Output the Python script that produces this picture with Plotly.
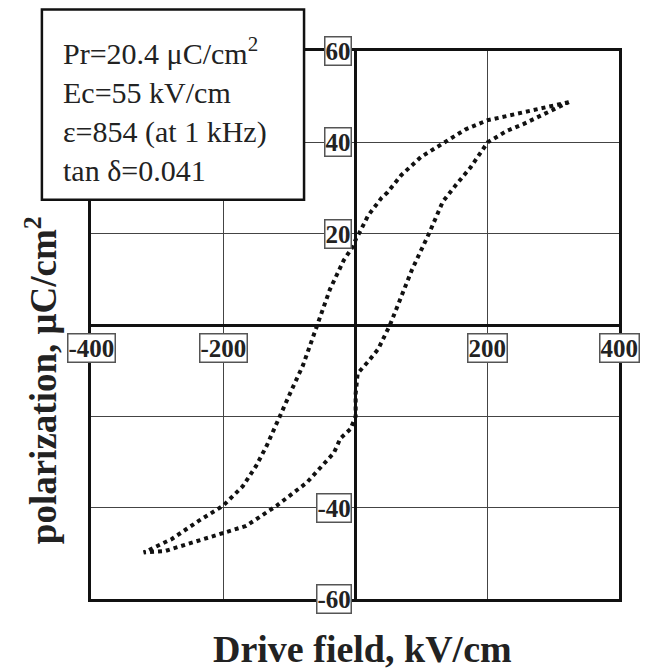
import plotly.graph_objects as go

# ---- data ----
upper_x = [324, 300, 255, 200, 167, 135, 100, 70, 49, 40, 20, 6, 2, -4, -17, -38, -56,
           -79, -96, -114, -134, -150, -170, -200, -237, -278, -320]
upper_y = [48.8, 48.0, 46.7, 44.8, 42.8, 40.0, 36.8, 32.8, 29.0, 27.8, 24.0, 20.0, 19.0,
           17.0, 14.2, 7.8, 0.3, -8.9, -14.2, -20.0, -26.5, -30.9, -35.3, -39.6, -42.9,
           -46.9, -49.8]
lower_x = [-320, -288, -247, -200, -165, -119, -73, -32, -22, -7, -1, 1, 1, 4, 20, 35, 53,
           70, 86, 112, 133, 152, 175, 201, 230, 255, 290, 324]
lower_y = [-49.8, -49.5, -47.6, -45.5, -44.0, -39.6, -34.5, -28.0, -24.8, -22.8, -20.7,
           -20.0, -15.0, -10.6, -8.0, -5.3, 0.0, 6.0, 12.0, 20.0, 27.0, 30.5, 34.5, 40.0,
           42.5, 44.0, 46.5, 48.8]

x_grid = [-400, -200, 0, 200, 400]
y_grid = [-60, -40, -20, 0, 20, 40, 60]
x_label_vals = [-400, -200, 200, 400]
x_label_text = ["-400", "-200", "200", "400"]
y_label_vals = [60, 40, 20, -40, -60]
y_label_text = ["60", "40", "20", "-40", "-60"]

info_lines = ["Pr=20.4 \u03bcC/cm<sup>2</sup>", "Ec=55 kV/cm",
              "\u03b5=854 (at 1 kHz)", "tan \u03b4=0.041"]
x_title = "Drive field, kV/cm"
y_title = "polarization, \u03bcC/cm<sup>2</sup>"

SERIF = "Liberation Serif, Times New Roman, serif"

fig = go.Figure()
fig.add_trace(go.Scatter(x=upper_x + lower_x[1:], y=upper_y + lower_y[1:], mode="lines",
                         line=dict(color="#111111", width=4, dash="4px,4px"),
                         hoverinfo="skip", showlegend=False))

axis_common = dict(showgrid=True, gridcolor="#444444", gridwidth=1,
                   zeroline=True, zerolinecolor="#111111", zerolinewidth=2.5,
                   showline=True, linecolor="#111111", linewidth=2.5, mirror=True,
                   showticklabels=False, ticks="", fixedrange=True)
fig.update_xaxes(range=[-400, 400], tickvals=x_grid, **axis_common)
fig.update_yaxes(range=[-60, 60], tickvals=y_grid, **axis_common)

annotations = []
for v, t in zip(x_label_vals, x_label_text):
    annotations.append(dict(x=v, y=0, xref="x", yref="y", text="<b>%s</b>" % t,
                            showarrow=False, xanchor="center", yanchor="top", yshift=-8,
                            font=dict(family=SERIF, size=25, color="#222222"),
                            bgcolor="white", bordercolor="#555555", borderwidth=1.5,
                            borderpad=0))
for v, t in zip(y_label_vals, y_label_text):
    annotations.append(dict(x=0, y=v, xref="x", yref="y", text="<b>%s</b>" % t,
                            showarrow=False, xanchor="right", yanchor="middle", xshift=-3,
                            font=dict(family=SERIF, size=25, color="#222222"),
                            bgcolor="white", bordercolor="#555555", borderwidth=1.5,
                            borderpad=0))

# info text
annotations.append(dict(x=-0.057, y=0.893, xref="paper", yref="paper",
                        text="<br>".join(info_lines), showarrow=False, align="left",
                        xanchor="left", yanchor="middle",
                        font=dict(family=SERIF, size=30, color="#222222")))
# axis titles
annotations.append(dict(x=0.515, y=-0.092, xref="paper", yref="paper",
                        text="<b>%s</b>" % x_title, showarrow=False,
                        xanchor="center", yanchor="middle",
                        font=dict(family=SERIF, size=38, color="#222222")))
annotations.append(dict(x=-0.094, y=0.40, xref="paper", yref="paper",
                        text="<b>%s</b>" % y_title, showarrow=False, textangle=-90,
                        xanchor="center", yanchor="middle",
                        font=dict(family=SERIF, size=37, color="#222222")))

shapes = [dict(type="rect", xref="paper", yref="paper", x0=-0.093, x1=0.4035,
               y0=0.7285, y1=1.0758, fillcolor="white",
               line=dict(color="#111111", width=2.5), layer="above")]

fig.update_layout(width=645, height=669, autosize=False,
                  margin=dict(l=91, r=26, t=51, b=70),
                  plot_bgcolor="white", paper_bgcolor="white",
                  annotations=annotations, shapes=shapes, showlegend=False)

fig.write_html("out.html", config={"displayModeBar": False},
               post_script="document.body.style.margin='0';")
